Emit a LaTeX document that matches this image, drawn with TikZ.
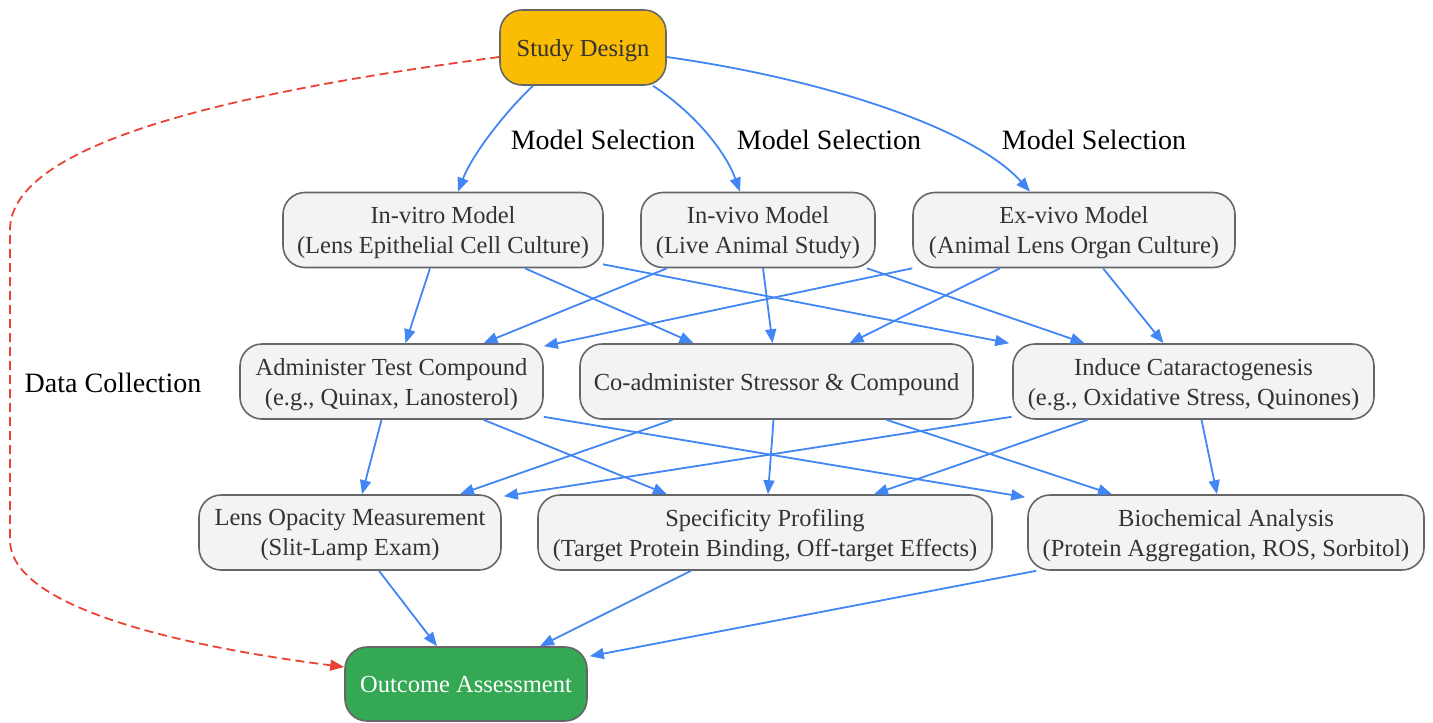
\documentclass[tikz,border=0pt]{standalone}
\usepackage{fontspec}
\setmainfont{Liberation Serif}
\usetikzlibrary{arrows.meta}
\definecolor{linkblue}{HTML}{4285F4}
\definecolor{linkred}{HTML}{EA4335}
\definecolor{designfill}{HTML}{FBBC04}
\definecolor{outcomefill}{HTML}{34A853}
\definecolor{boxfill}{HTML}{F1F3F4}
\definecolor{boxline}{HTML}{666666}
\definecolor{boxtext}{HTML}{333333}
\begin{document}
\begin{tikzpicture}[x=1pt, y=-1pt,
    box/.style={draw=boxline, line width=1.6pt, fill=boxfill, rounded corners=22pt,
      align=center, inner sep=0pt, minimum height=75pt, text=boxtext, text depth=0pt,
      font=\fontsize{24.5}{30}\selectfont},
    link/.style={draw=linkblue, line width=1.8pt, -{Triangle[length=14pt,width=11pt]}},
    datalink/.style={draw=linkred, line width=1.8pt, dash pattern=on 9pt off 5pt,
      -{Triangle[length=14pt,width=11pt]}},
    lbl/.style={font=\fontsize{28}{32}\selectfont}]
    \useasboundingbox (0,0) rectangle (1433,723);
    % nodes
    \node[box, fill=designfill, minimum width=166pt] (design) at (583,47.5) {Study Design};
    \node[box, minimum width=320pt] (vitro) at (443,230) {In-vitro Model\\(Lens Epithelial Cell Culture)};
    \node[box, minimum width=234pt] (vivo) at (758,230) {In-vivo Model\\(Live Animal Study)};
    \node[box, minimum width=322pt] (exvivo) at (1074,230) {Ex-vivo Model\\(Animal Lens Organ Culture)};
    \node[box, minimum width=303pt] (admin) at (391.5,381.5) {Administer Test Compound\\(e.g., Quinax, Lanosterol)};
    \node[box, minimum width=393pt] (coadmin) at (776.5,381.5) {Co-administer Stressor \& Compound};
    \node[box, minimum width=361pt] (induce) at (1193.5,381.5) {Induce Cataractogenesis\\(e.g., Oxidative Stress, Quinones)};
    \node[box, minimum width=302pt] (opacity) at (350,532.5) {Lens Opacity Measurement\\(Slit-Lamp Exam)};
    \node[box, minimum width=454pt] (spec) at (765,532.5) {Specificity Profiling\\(Target Protein Binding, Off-target Effects)};
    \node[box, minimum width=396pt] (bio) at (1226,532.5) {Biochemical Analysis\\(Protein Aggregation, ROS, Sorbitol)};
    \node[box, fill=outcomefill, text=white, minimum width=242pt, minimum height=74pt] (outcome) at (466,684) {Outcome Assessment};
    % labels
    \node[lbl] (msel1) at (603,140) {Model Selection};
    \node[lbl] (msel2) at (829,140) {Model Selection};
    \node[lbl] (msel3) at (1094,140) {Model Selection};
    \node[lbl] (dcoll) at (113,383) {Data Collection};
    % model selection
    \draw[link] ([xshift=-50pt]design.south) .. controls (505,112) and (472,155) .. ([xshift=15pt]vitro.north);
    \draw[link] ([xshift=70pt]design.south) .. controls (693,112) and (725,150) .. ([xshift=-18pt]vivo.north);
    \draw[link] ([yshift=-9.5pt]design.east) .. controls (830,80) and (975,130) .. ([xshift=-44pt]exvivo.north);
    \draw[datalink] ([yshift=-9.5pt]design.west) .. controls (250,90) and (10,140) .. (10,230)
      -- (10,540) .. controls (10,620) and (250,655) .. ([yshift=17pt]outcome.west);
    % models to treatments
    \draw[link] ([xshift=-13pt]vitro.south) -- ([xshift=14pt]admin.north);
    \draw[link] ([xshift=82pt]vitro.south) -- ([xshift=-83pt]coadmin.north);
    \draw[link] ([xshift=160pt,yshift=4pt]vitro.south) -- ([xshift=-3pt]induce.north west);
    \draw[link] ([xshift=-91pt]vivo.south) -- ([xshift=92pt]admin.north);
    \draw[link] ([xshift=5pt]vivo.south) -- ([xshift=-4pt]coadmin.north);
    \draw[link] ([xshift=109pt]vivo.south) -- ([xshift=-109pt]induce.north);
    \draw[link] (exvivo.south west) -- ([yshift=-3pt]admin.north east);
    \draw[link] ([xshift=-74pt]exvivo.south) -- ([xshift=73pt]coadmin.north);
    \draw[link] ([xshift=29pt]exvivo.south) -- ([xshift=-30pt]induce.north);
    % treatments to measurements
    \draw[link] ([xshift=-10pt]admin.south) -- ([xshift=12pt]opacity.north);
    \draw[link] ([xshift=92pt]admin.south) -- ([xshift=-98pt]spec.north);
    \draw[link] ([yshift=3pt]admin.south east) -- ([xshift=-2pt,yshift=-3pt]bio.north west);
    \draw[link] ([xshift=-104pt]coadmin.south) -- ([xshift=110pt]opacity.north);
    \draw[link] ([xshift=-3pt]coadmin.south) -- ([xshift=3pt]spec.north);
    \draw[link] ([xshift=110pt]coadmin.south) -- ([xshift=-114pt]bio.north);
    \draw[link] ([xshift=-182pt,yshift=3pt]induce.south) -- ([xshift=2pt,yshift=-2pt]opacity.north east);
    \draw[link] ([xshift=-106pt]induce.south) -- ([xshift=109pt]spec.north);
    \draw[link] ([xshift=8pt]induce.south) -- ([xshift=-9pt]bio.north);
    % measurements to outcome
    \draw[link] ([xshift=29pt]opacity.south) -- ([xshift=-29pt]outcome.north);
    \draw[link] ([xshift=-74pt]spec.south) -- ([xshift=74pt]outcome.north);
    \draw[link] ([xshift=9pt]bio.south west) -- ([xshift=2pt,yshift=-10pt]outcome.north east);
\end{tikzpicture}
\end{document}
